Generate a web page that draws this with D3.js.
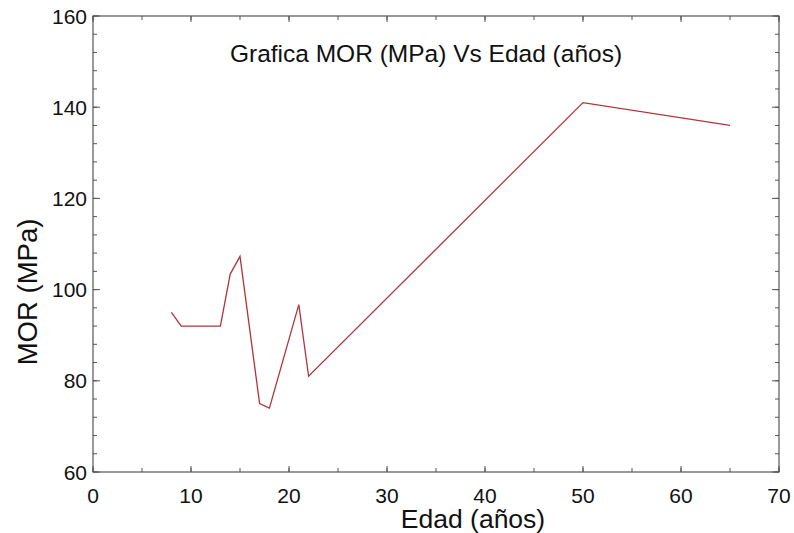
<!DOCTYPE html>
<html>
<head>
<meta charset="utf-8">
<script src="https://cdn.jsdelivr.net/npm/d3@7"></script>
<style>
  body { margin: 0; background: #fff; }
  text { font-family: "Liberation Sans", Arial, sans-serif; fill: #111; }
</style>
</head>
<body>
<svg id="svg"></svg>
<script>
// data
let edad = [8, 9, 13, 14, 15, 17, 18, 21, 22, 50, 65];
let mor = [95, 92, 92, 103.4, 107.3, 75, 74, 96.7, 81, 141, 136];
let xTicks = [0, 10, 20, 30, 40, 50, 60, 70];
let yTicks = [60, 80, 100, 120, 140, 160];

let width = 794;
let height = 533;
let padLeft = 93, padRight = 779, padTop = 16, padBottom = 472;

let svg = d3.select("#svg").attr("width", width).attr("height", height);

let xScale = d3.scaleLinear().domain([0, 70]).range([padLeft, padRight]);
let yScale = d3.scaleLinear().domain([60, 160]).range([padBottom, padTop]);

// frame
svg.append("rect")
  .attr("x", padLeft).attr("y", padTop)
  .attr("width", padRight - padLeft).attr("height", padBottom - padTop)
  .attr("fill", "none").attr("stroke", "#555").attr("stroke-width", 1.2);

// ticks pointing inward, on all four sides
let xMinor = d3.range(0, 70.01, 5);
let yMinor = d3.range(60, 160.01, 4);

let tickLines = (vals, len, horiz) => {
  vals.forEach((v) => {
    if (horiz) {
      let x = xScale(v);
      svg.append("line").attr("x1", x).attr("x2", x).attr("y1", padBottom).attr("y2", padBottom - len).attr("stroke", "#555");
      svg.append("line").attr("x1", x).attr("x2", x).attr("y1", padTop).attr("y2", padTop + len).attr("stroke", "#555");
    } else {
      let y = yScale(v);
      svg.append("line").attr("x1", padLeft).attr("x2", padLeft + len).attr("y1", y).attr("y2", y).attr("stroke", "#555");
      svg.append("line").attr("x1", padRight).attr("x2", padRight - len).attr("y1", y).attr("y2", y).attr("stroke", "#555");
    }
  });
};
tickLines(xMinor, 4, true);
tickLines(xTicks, 6, true);
tickLines(yMinor, 4, false);
tickLines(yTicks, 7, false);

// tick labels
svg.selectAll(".xl").data(xTicks).enter().append("text")
  .attr("x", (d) => xScale(d)).attr("y", 503)
  .attr("text-anchor", "middle").attr("font-size", 21)
  .text((d) => d);

svg.selectAll(".yl").data(yTicks).enter().append("text")
  .attr("x", padLeft - 6).attr("y", (d) => yScale(d) + 7.5)
  .attr("text-anchor", "end").attr("font-size", 21)
  .text((d) => d);

// line
let pts = edad.map((e, i) => [e, mor[i]]);
let line = d3.line().x((d) => xScale(d[0])).y((d) => yScale(d[1]));
svg.append("path").datum(pts)
  .attr("d", line).attr("fill", "none")
  .attr("stroke", "#b3343a").attr("stroke-width", 1.3);

// titles
svg.append("text").attr("x", 426).attr("y", 62)
  .attr("text-anchor", "middle").attr("font-size", 24.5)
  .text("Grafica MOR (MPa) Vs Edad (años)");

svg.append("text").attr("x", 473).attr("y", 528)
  .attr("text-anchor", "middle").attr("font-size", 26.5)
  .text("Edad (años)");

svg.append("text")
  .attr("transform", "translate(37, 292) rotate(-90)")
  .attr("text-anchor", "middle").attr("font-size", 27.5)
  .text("MOR (MPa)");
</script>
</body>
</html>
